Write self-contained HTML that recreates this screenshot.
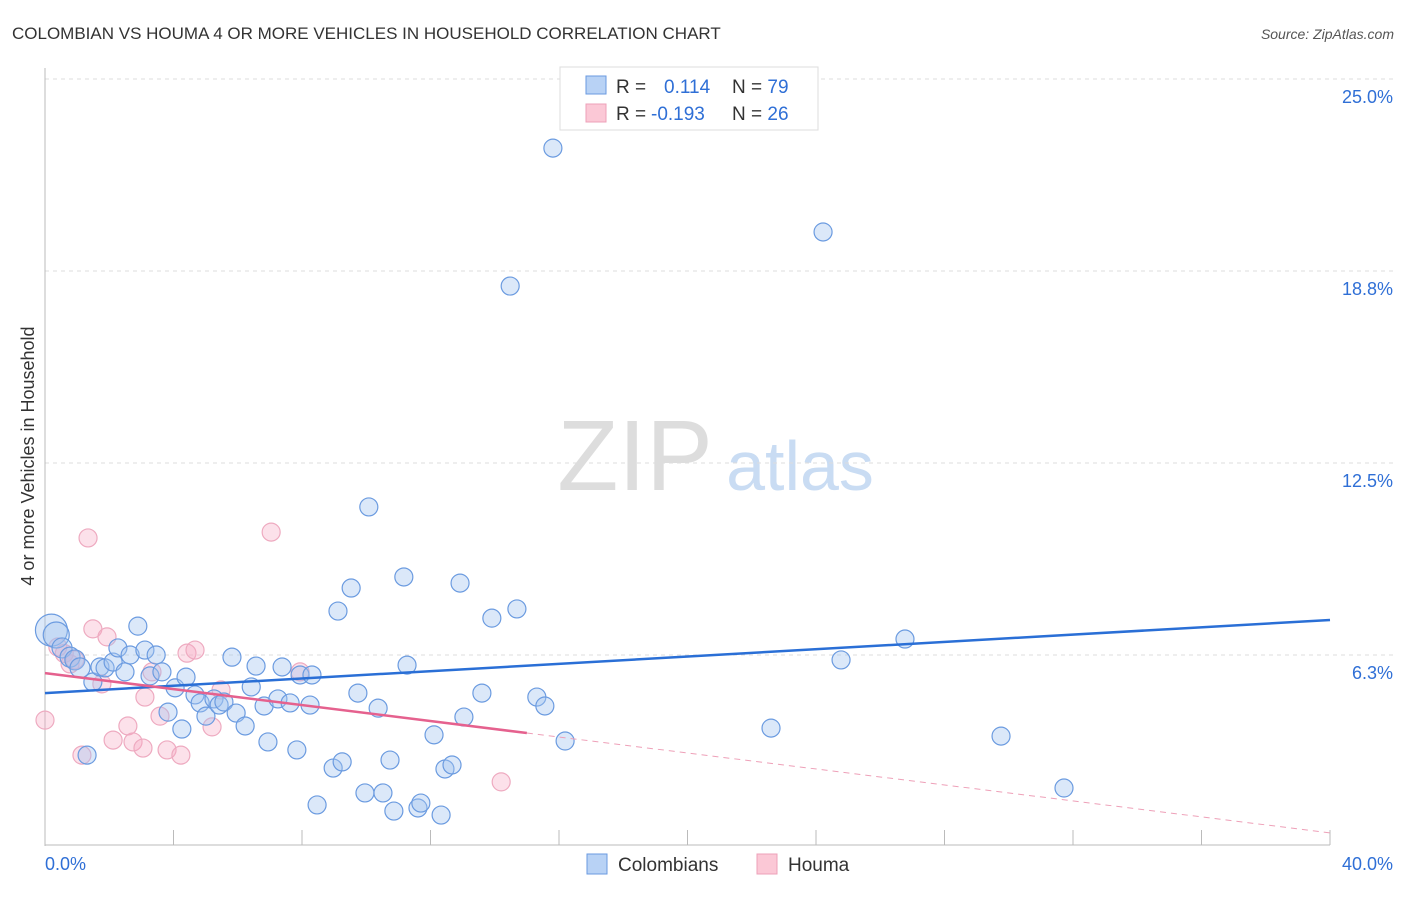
<!DOCTYPE html>
<html><head><meta charset="utf-8"><style>
body{margin:0;background:#fff;font-family:"Liberation Sans",sans-serif}
svg text{font-family:"Liberation Sans",sans-serif}
</style></head><body>
<svg id="c" width="1406" height="892">
<text x="12" y="39" font-size="17" fill="#333">COLOMBIAN VS HOUMA 4 OR MORE VEHICLES IN HOUSEHOLD CORRELATION CHART</text>
<text x="1394" y="39" font-size="14" fill="#555" font-style="italic" text-anchor="end">Source: ZipAtlas.com</text>
<text x="635" y="490" font-size="100" fill="#ddd" font-family="Liberation Serif" text-anchor="middle">ZIP</text>
<text x="800" y="490" font-size="70" fill="#c9dcf3" text-anchor="middle">atlas</text>
<text transform="translate(34,456) rotate(-90)" font-size="18" fill="#333" text-anchor="middle">4 or more Vehicles in Household</text>
<g id="grid"></g><g id="pts"></g><g id="lines"></g>
<g>
<rect x="560" y="67" width="258" height="63" fill="#fff" stroke="#ddd"/>
<rect x="586" y="76" width="20" height="18" fill="#b8d2f5" stroke="#6a9ae0"/>
<rect x="586" y="104" width="20" height="18" fill="#fbc8d6" stroke="#eea0b8"/>
<text x="616" y="93" font-size="19" fill="#333">R = <tspan fill="#2f6fd6" x="664">0.114</tspan><tspan x="732" fill="#333">N = </tspan><tspan fill="#2f6fd6">79</tspan></text>
<text x="616" y="120" font-size="19" fill="#333">R = <tspan fill="#2f6fd6" x="651">-0.193</tspan><tspan x="732" fill="#333">N = </tspan><tspan fill="#2f6fd6">26</tspan></text>
</g>
<g>
<rect x="587" y="854" width="20" height="20" fill="#b8d2f5" stroke="#6a9ae0"/>
<text x="618" y="871" font-size="19" fill="#333">Colombians</text>
<rect x="757" y="854" width="20" height="20" fill="#fbc8d6" stroke="#eea0b8"/>
<text x="788" y="871" font-size="19" fill="#333">Houma</text>
</g>
</svg>
<script>
const yTicks=[25,18.75,12.5,6.25];
const yTickLabels=["25.0%","18.8%","12.5%","6.3%"];
const xTicks=[0,4,8,12,16,20,24,28,32,36,40];
const blueX=[0.2,0.35,0.53,0.78,0.93,1.09,1.31,1.49,1.71,1.87,2.12,2.27,2.49,2.65,2.89,3.11,3.27,3.46,3.64,3.83,4.05,4.26,4.39,4.67,4.83,5.01,5.26,5.42,5.57,5.82,5.95,6.23,6.42,6.57,6.82,6.94,7.25,7.38,7.63,7.84,7.94,8.25,8.31,8.47,8.97,9.12,9.25,9.53,9.74,9.96,10.08,10.37,10.52,10.74,10.86,11.17,11.27,11.61,11.7,12.11,12.33,12.45,12.67,12.92,13.04,13.6,13.91,14.48,14.69,15.31,15.56,15.81,16.19,22.6,24.22,24.78,26.77,29.76,31.72];
const blueY=[7.06,6.9,6.48,6.18,6.09,5.83,2.99,5.37,5.86,5.83,6.02,6.48,5.7,6.25,7.19,6.41,5.57,6.25,5.7,4.39,5.18,3.84,5.53,4.95,4.69,4.26,4.82,4.62,4.72,6.18,4.36,3.94,5.21,5.89,4.59,3.42,4.82,5.86,4.69,3.16,5.6,4.62,5.6,1.37,2.57,7.68,2.77,8.43,5.01,1.76,11.07,4.52,1.76,2.83,1.17,8.79,5.92,1.27,1.43,3.65,1.04,2.54,2.67,8.59,4.23,5.01,7.45,18.26,7.75,4.88,4.59,22.75,3.45,3.87,20.02,6.09,6.77,3.61,1.92];
const blueR=[16,13,10,10,10,10,9,9,9,9,9,9,9,9,9,9,9,9,9,9,9,9,9,9,9,9,9,9,9,9,9,9,9,9,9,9,9,9,9,9,9,9,9,9,9,9,9,9,9,9,9,9,9,9,9,9,9,9,9,9,9,9,9,9,9,9,9,9,9,9,9,9,9,9,9,9,9,9,9];
const pinkX=[0,0.4,0.78,0.93,1.34,1.15,1.49,1.77,1.93,2.12,2.58,2.74,3.05,3.11,3.33,3.58,3.8,4.23,4.42,4.67,5.2,5.48,7.04,7.94,14.2,0.6];
const pinkY=[4.13,6.51,5.96,6.09,10.06,2.99,7.1,5.31,6.84,3.48,3.94,3.42,3.22,4.88,5.7,4.26,3.16,2.99,6.31,6.41,3.91,5.11,10.25,5.7,2.12,6.3];
const blueTrend=[5.01,7.39];
const pinkTrend=[5.66,0.46];
const pinkSolidEnd=15.0;
const X=v=>45+v/40*1285, Y=v=>847-v/6.25*192;
const NS="http://www.w3.org/2000/svg";
function mk(t,a,p){const e=document.createElementNS(NS,t);for(const k in a)e.setAttribute(k,a[k]);p.appendChild(e);return e;}
const g=document.getElementById('grid');
yTicks.forEach((v,i)=>{
 const l=mk('line',{x1:45,x2:1394,y1:Y(v),y2:Y(v),stroke:'#ddd','stroke-dasharray':'4,4'},g);
 
 
 const t=mk('text',{x:1393,y:Y(v)+24,'font-size':18,fill:'#2f6fd6','text-anchor':'end'},g);t.textContent=yTickLabels[i];
 
 
});
mk('line',{x1:45,x2:45,y1:68,y2:846,stroke:'#bbb'},g);
mk('line',{x1:45,x2:1330,y1:845,y2:845,stroke:'#bbb'},g);
xTicks.forEach(v=>{const l=mk('line',{x1:X(v),x2:X(v),y1:830,y2:845,stroke:'#bbb'},g);
 
 });
const t0=mk('text',{x:45,y:870,'font-size':18,fill:'#2f6fd6'},g);t0.textContent="0.0%";

const t1=mk('text',{x:1393,y:870,'font-size':18,fill:'#2f6fd6','text-anchor':'end'},g);t1.textContent="40.0%";

const p=document.getElementById('pts');
pinkX.forEach((x,i)=>{const c=mk('circle',{cx:X(x),cy:Y(pinkY[i]),r:9,fill:'rgba(245,170,195,0.35)',stroke:'#eeaac0','stroke-width':1.2},p);
 
 });
blueX.forEach((x,i)=>{const c=mk('circle',{cx:X(x),cy:Y(blueY[i]),r:blueR[i],fill:'rgba(160,195,240,0.38)',stroke:'#6b9be0','stroke-width':1.2},p);
 
 });
const L=document.getElementById('lines');
const bl=mk('line',{x1:X(0),y1:Y(blueTrend[0]),x2:X(40),y2:Y(blueTrend[1]),stroke:'#2a6fd6','stroke-width':2.5},L);


const pAt=x=>pinkTrend[0]+(pinkTrend[1]-pinkTrend[0])*x/40;
const ps=mk('line',{x1:X(0),y1:Y(pAt(0)),x2:X(pinkSolidEnd),y2:Y(pAt(pinkSolidEnd)),stroke:'#e5618e','stroke-width':2.5},L);


const pd=mk('line',{x1:X(pinkSolidEnd),y1:Y(pAt(pinkSolidEnd)),x2:X(40),y2:Y(pAt(40)),stroke:'#eea0b8','stroke-width':1,'stroke-dasharray':'6,5'},L);


</script>
</body></html>
